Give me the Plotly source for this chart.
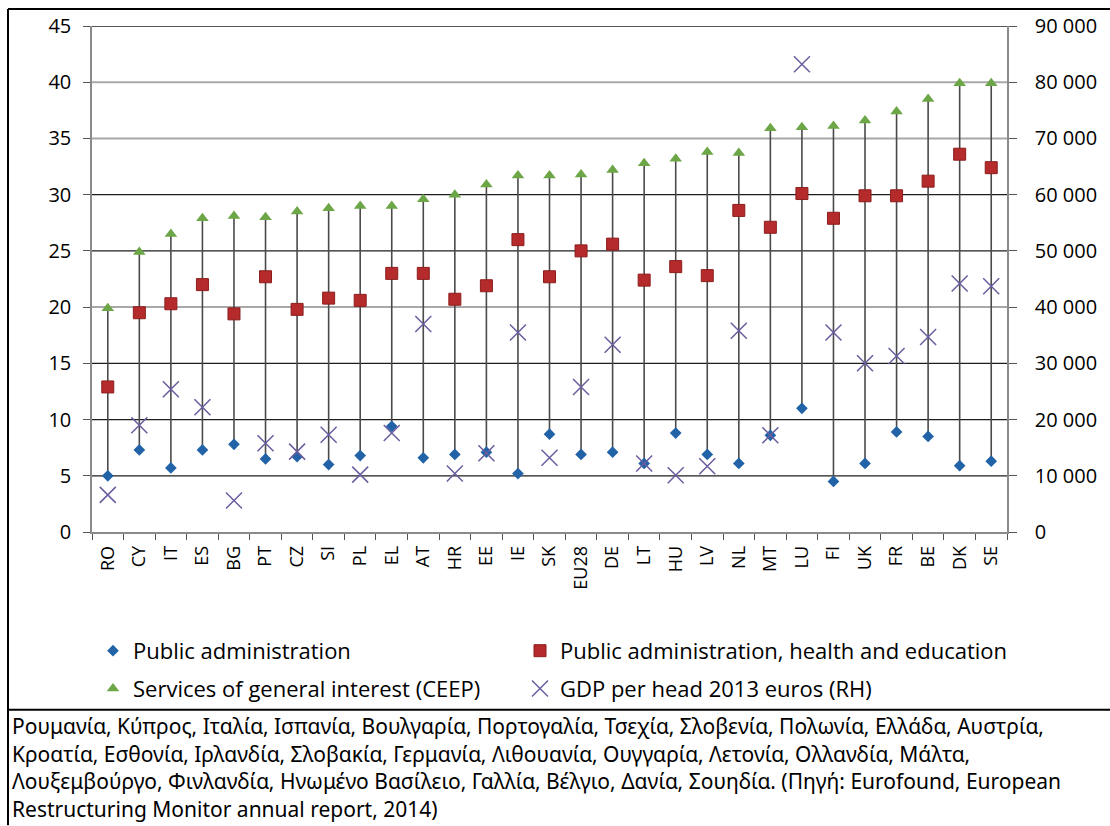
import plotly.graph_objects as go

countries = ["RO", "CY", "IT", "ES", "BG", "PT", "CZ", "SI", "PL", "EL", "AT", "HR", "EE", "IE", "SK",
             "EU28", "DE", "LT", "HU", "LV", "NL", "MT", "LU", "FI", "UK", "FR", "BE", "DK", "SE"]

public_admin = [5.0, 7.3, 5.7, 7.3, 7.8, 6.5, 6.7, 6.0, 6.8, 9.4, 6.6, 6.9, 7.1, 5.2, 8.7,
                6.9, 7.1, 6.1, 8.8, 6.9, 6.1, 8.6, 11.0, 4.5, 6.1, 8.9, 8.5, 5.9, 6.3]

pa_health_edu = [12.9, 19.5, 20.3, 22.0, 19.4, 22.7, 19.8, 20.8, 20.6, 23.0, 23.0, 20.7, 21.9, 26.0, 22.7,
                 25.0, 25.6, 22.4, 23.6, 22.8, 28.6, 27.1, 30.1, 27.9, 29.9, 29.9, 31.2, 33.6, 32.4]

services_gi = [19.9, 24.9, 26.5, 27.9, 28.1, 28.0, 28.5, 28.8, 29.0, 29.0, 29.6, 30.0, 30.9, 31.7, 31.7,
               31.8, 32.2, 32.8, 33.2, 33.8, 33.7, 35.9, 36.0, 36.1, 36.6, 37.4, 38.5, 39.9, 39.9]

gdp_per_head = [6600, 19000, 25400, 22200, 5600, 15800, 14300, 17300, 10200, 17600, 37000, 10400, 14000,
                35500, 13200, 25800, 33300, 12200, 10100, 11700, 35800, 17200, 83200, 35500, 30000,
                31300, 34700, 44200, 43700]

left_ticks = [0, 5, 10, 15, 20, 25, 30, 35, 40, 45]
right_ticks = [0, 10000, 20000, 30000, 40000, 50000, 60000, 70000, 80000, 90000]
right_tick_labels = ["0", "10 000", "20 000", "30 000", "40 000", "50 000", "60 000", "70 000",
                     "80 000", "90 000"]

legend_names = ["Public administration", "Public administration, health and education",
                "Services of general interest (CEEP)", "GDP per head 2013 euros (RH)"]

caption_lines = [
    "Ρουμανία, Κύπρος, Ιταλία, Ισπανία, Βουλγαρία, Πορτογαλία, Τσεχία, Σλοβενία, Πολωνία, Ελλάδα, Αυστρία,",
    "Κροατία, Εσθονία, Ιρλανδία, Σλοβακία, Γερμανία, Λιθουανία, Ουγγαρία, Λετονία, Ολλανδία, Μάλτα,",
    "Λουξεμβούργο, Φινλανδία, Ηνωμένο Βασίλειο, Γαλλία, Βέλγιο, Δανία, Σουηδία. (Πηγή: Eurofound, European",
    "Restructuring Monitor annual report, 2014)",
]

# ---- layout geometry (pixels) ----
W, H = 1110, 826
PL_, PR_, PT_, PB_ = 92, 1007, 24, 531.7


def px2x(px):
    return (px - PL_) / (PR_ - PL_)


def py2y(py):
    return (PB_ - py) / (PB_ - PT_)


FONT = "Open Sans"
GDP_COLOR = "#6a5c9e"

fig = go.Figure()

# high-low lines from min to max of the left-axis series
hl_x, hl_y = [], []
for c, a, b, s in zip(countries, public_admin, pa_health_edu, services_gi):
    lo = min(a, b, s)
    hi = max(a, b, s)
    hl_x += [c, c, None]
    hl_y += [lo, hi, None]
fig.add_trace(go.Scatter(x=hl_x, y=hl_y, mode="lines", line=dict(color="#4a4a4a", width=1.6),
                         showlegend=False, hoverinfo="skip"))

fig.add_trace(go.Scatter(x=countries, y=public_admin, mode="markers", name=legend_names[0],
                         marker=dict(symbol="diamond", size=9, color="#2163a6"), legend="legend"))
fig.add_trace(go.Scatter(x=countries, y=pa_health_edu, mode="markers", name=legend_names[1],
                         marker=dict(symbol="square", size=12, color="#b52b2b",
                                     line=dict(color="#8c1d1d", width=1)), legend="legend2"))
fig.add_trace(go.Scatter(x=countries, y=services_gi, mode="markers", name=legend_names[2],
                         marker=dict(symbol="triangle-up", size=11, color="#6ca646"), legend="legend3"))
fig.add_trace(go.Scatter(x=countries, y=gdp_per_head, mode="markers", name=legend_names[3], yaxis="y2",
                         marker=dict(symbol="x-thin-open", size=16, color=GDP_COLOR,
                                     line=dict(color=GDP_COLOR, width=1.5)), legend="legend4"))

# horizontal gridlines (some rendered dark, some light in the source)
shapes = []
light = {20, 35, 40}
for v in left_ticks[1:]:
    shapes.append(dict(type="line", xref="paper", yref="y", x0=0, x1=1, y0=v, y1=v, layer="below",
                       line=dict(color="#a8a8a8" if v in light else "#1e1e1e",
                                 width=2 if v in light else 1.3)))

# outer frame
shapes += [
    dict(type="line", xref="paper", yref="paper", x0=px2x(8), x1=px2x(1110), y0=py2y(7), y1=py2y(7),
         line=dict(color="black", width=2)),
    dict(type="line", xref="paper", yref="paper", x0=px2x(8), x1=px2x(8), y0=py2y(7), y1=py2y(826),
         line=dict(color="black", width=2)),
    dict(type="line", xref="paper", yref="paper", x0=px2x(8), x1=px2x(1110), y0=py2y(710), y1=py2y(710),
         line=dict(color="black", width=2)),
]

annotations = []
for i, line in enumerate(caption_lines):
    annotations.append(dict(text=line, xref="paper", yref="paper", x=px2x(10), y=py2y(726 + 28 * i),
                            xanchor="left", yanchor="middle", showarrow=False,
                            font=dict(family="Noto Sans", size=21, color="black")))

legend_common = dict(orientation="h", xanchor="left", yanchor="middle",
                     font=dict(family=FONT, size=22, color="black"),
                     bgcolor="rgba(0,0,0,0)", itemclick=False, itemdoubleclick=False)

fig.update_layout(
    width=W, height=H,
    margin=dict(l=PL_, r=W - PR_, t=PT_, b=H - PB_),
    paper_bgcolor="white", plot_bgcolor="white",
    font=dict(family=FONT, color="black"),
    xaxis=dict(type="category", categoryorder="array", categoryarray=countries,
               tickangle=-90, tickfont=dict(size=18), ticks="outside", tickson="boundaries",
               ticklen=6, tickcolor="#555", showline=True, linecolor="#8a8a8a", linewidth=1.5,
               showgrid=False, range=[-0.5, len(countries) - 0.5], ticklabelstandoff=5),
    yaxis=dict(range=[0, 45], tickvals=left_ticks, tickfont=dict(size=20), showgrid=False,
               ticks="outside", ticklen=7, tickcolor="#555", showline=True, linecolor="#8a8a8a",
               linewidth=1.5, zeroline=False, ticklabelstandoff=8),
    yaxis2=dict(range=[0, 90000], overlaying="y", side="right", tickvals=right_ticks,
                ticktext=right_tick_labels, tickfont=dict(size=20), showgrid=False,
                ticks="outside", ticklen=8, tickcolor="#555", showline=True, linecolor="#8a8a8a",
                linewidth=1.5, zeroline=False, ticklabelstandoff=14),
    legend=dict(x=px2x(93), y=py2y(651), **legend_common),
    legend2=dict(x=px2x(520), y=py2y(651), **legend_common),
    legend3=dict(x=px2x(93), y=py2y(689), **legend_common),
    legend4=dict(x=px2x(520), y=py2y(689), **legend_common),
    shapes=shapes,
    annotations=annotations,
)

fig.write_html("out.html", config={"displayModeBar": False},
               post_script="document.body.style.margin='0';document.body.style.overflow='hidden';")
